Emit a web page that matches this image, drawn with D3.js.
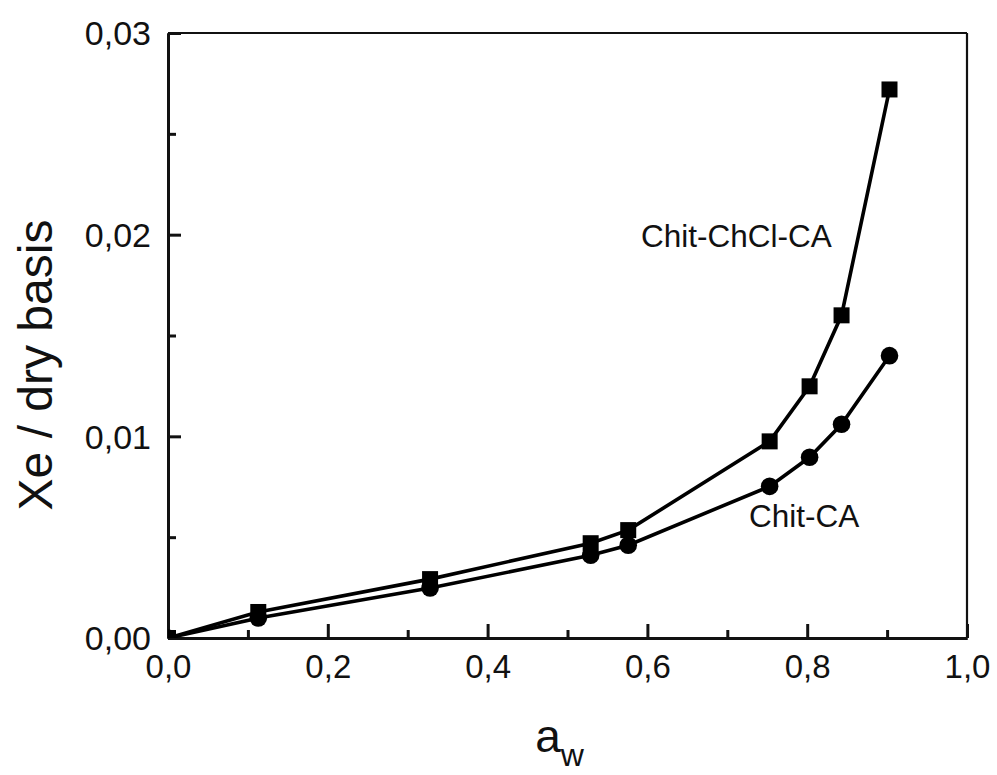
<!DOCTYPE html>
<html>
<head>
<meta charset="utf-8">
<script src="https://cdn.jsdelivr.net/npm/d3@7"></script>
<style>
  body { margin: 0; background: #fff; }
  svg text { font-family: "Liberation Sans", Arial, sans-serif; fill: #111; }
</style>
</head>
<body>
<svg id="chart"></svg>
<script>
// water activity (x) and equilibrium moisture (y)
var aw = [0, 0.113, 0.328, 0.529, 0.576, 0.753, 0.803, 0.843, 0.903];
var chclValues = [0, 0.00129, 0.00292, 0.0047, 0.00535, 0.00975, 0.01248, 0.0160, 0.0272];
var caValues   = [0, 0.00099, 0.00248, 0.0041, 0.0046, 0.00752, 0.00896, 0.0106, 0.0140];
var xMajor = [0, 0.2, 0.4, 0.6, 0.8, 1.0];
var xMinor = [0.1, 0.3, 0.5, 0.7, 0.9];
var yMajor = [0, 0.01, 0.02, 0.03];
var yMinor = [0.005, 0.015, 0.025];

var W = 997, H = 775;
var margin = {top: 33, right: 30, bottom: 137, left: 168};
var width = W - margin.left - margin.right;
var height = H - margin.top - margin.bottom;

var svg = d3.select('#chart').attr('width', W).attr('height', H);
var g = svg.append('g').attr('transform', 'translate(' + margin.left + ',' + margin.top + ')');

var x = d3.scaleLinear().domain([0, 1]).range([0, width]);
var y = d3.scaleLinear().domain([0, 0.03]).range([height, 0]);

var fmtX = function(d) { return d3.format('.1f')(d).replace('.', ','); };
var fmtY = function(d) { return d3.format('.2f')(d).replace('.', ','); };

// frame (top / right thinner)
g.append('line').attr('x1', 0).attr('x2', width).attr('y1', 0).attr('y2', 0)
  .attr('stroke', '#111').attr('stroke-width', 2.2);
g.append('line').attr('x1', width).attr('x2', width).attr('y1', 0).attr('y2', height)
  .attr('stroke', '#111').attr('stroke-width', 2.2);

// x axis
var xAxis = g.append('g').attr('transform', 'translate(0,' + height + ')')
  .call(d3.axisBottom(x).tickValues(xMajor).tickSizeInner(-14).tickSizeOuter(0).tickPadding(17).tickFormat(fmtX));
xAxis.append('g').call(d3.axisBottom(x).tickValues(xMinor).tickSizeInner(-8).tickSizeOuter(0).tickFormat(''));

// y axis
var yAxis = g.append('g')
  .call(d3.axisLeft(y).tickValues(yMajor).tickSizeInner(-13).tickSizeOuter(0).tickPadding(17).tickFormat(fmtY));
yAxis.append('g').call(d3.axisLeft(y).tickValues(yMinor).tickSizeInner(-8).tickSizeOuter(0).tickFormat(''));

g.selectAll('.domain').attr('stroke', '#111').attr('stroke-width', 3);
g.selectAll('.tick line').attr('stroke', '#111').attr('stroke-width', 3);
xAxis.selectAll('.tick text').attr('font-size', 33).attr('fill', '#111');
yAxis.selectAll('.tick text').attr('font-size', 34).attr('fill', '#111').attr('dy', '0.35em');

// clip for markers
svg.append('clipPath').attr('id', 'plotclip')
  .append('rect').attr('x', 0).attr('y', 0).attr('width', width).attr('height', height);

var line = d3.line()
  .x(function(d) { return x(d[0]); })
  .y(function(d) { return y(d[1]); });

var chclData = aw.map(function(a, i) { return [a, chclValues[i]]; });
var caData = aw.map(function(a, i) { return [a, caValues[i]]; });

var plot = g.append('g').attr('clip-path', 'url(#plotclip)');

plot.append('path').datum(caData).attr('d', line)
  .attr('fill', 'none').attr('stroke', '#000').attr('stroke-width', 3.6);
plot.append('path').datum(chclData).attr('d', line)
  .attr('fill', 'none').attr('stroke', '#000').attr('stroke-width', 3.6);

plot.selectAll('.circ').data(caData).enter().append('circle')
  .attr('cx', function(d) { return x(d[0]); })
  .attr('cy', function(d) { return y(d[1]); })
  .attr('r', 8.8).attr('fill', '#000');

var sq = 16;
plot.selectAll('.sq').data(chclData).enter().append('rect')
  .attr('x', function(d) { return x(d[0]) - sq / 2; })
  .attr('y', function(d) { return y(d[1]) - sq / 2; })
  .attr('width', sq).attr('height', sq).attr('fill', '#000');

// annotations
g.append('text').attr('x', 641 - margin.left).attr('y', 247 - margin.top)
  .attr('font-size', 31.5).text('Chit-ChCl-CA');
g.append('text').attr('x', 749 - margin.left).attr('y', 527 - margin.top)
  .attr('font-size', 31.5).text('Chit-CA');

// axis titles
svg.append('text')
  .attr('transform', 'translate(52,365) rotate(-90)')
  .attr('text-anchor', 'middle').attr('font-size', 48)
  .text('Xe / dry basis');

var xt = svg.append('text').attr('x', margin.left + width / 2 - 8).attr('y', 752)
  .attr('text-anchor', 'middle').attr('font-size', 46);
xt.append('tspan').text('a');
xt.append('tspan').attr('font-size', 32).attr('dy', 14).text('w');
</script>
</body>
</html>
